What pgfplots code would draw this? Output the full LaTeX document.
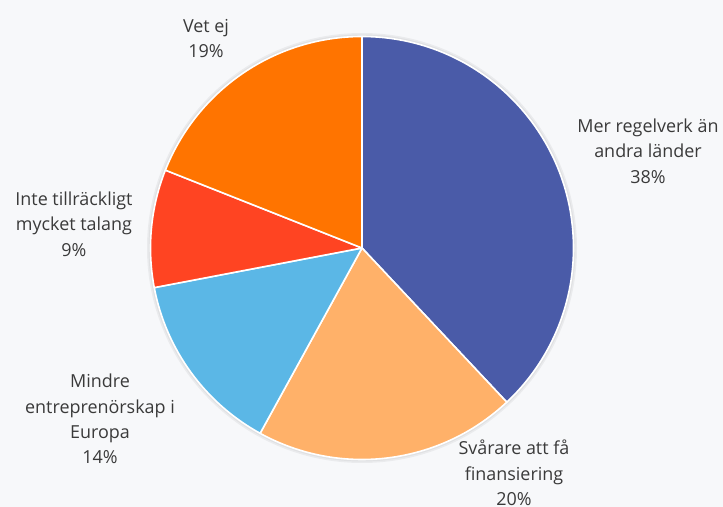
\documentclass[border=0pt]{standalone}
\usepackage{pgfplots}
\pgfplotsset{compat=1.18}
\usepackage{fontspec}
\setmainfont{Open Sans}
\definecolor{bg}{HTML}{F7F8FA}
\definecolor{cA}{HTML}{4A5BA8}
\definecolor{cB}{HTML}{FFB169}
\definecolor{cC}{HTML}{5BB7E6}
\definecolor{cD}{HTML}{FF4422}
\definecolor{cE}{HTML}{FF7400}
\definecolor{txt}{HTML}{3A3A3A}
% shares (percent), clockwise from 90 degrees
\def\cx{362}\def\cy{259}\def\R{211.5}
\pgfmathsetmacro\aA{90}
\pgfmathsetmacro\aB{\aA-38*3.6}
\pgfmathsetmacro\aC{\aB-20*3.6}
\pgfmathsetmacro\aD{\aC-14*3.6}
\pgfmathsetmacro\aE{\aD-9*3.6}
\pgfmathsetmacro\aF{\aE-19*3.6}
\newcommand\piewedge[3]{\filldraw[fill=#3,draw=white,line width=1.6bp,line join=round]
    (axis cs:\cx,\cy) -- ++(#1:\R bp) arc[start angle=#1,end angle=#2,radius=\R bp] -- cycle;}
\tikzset{lbl/.style={align=center,text=txt,inner sep=0pt,font=\fontsize{18}{25.5}\selectfont}}
\begin{document}
\begin{tikzpicture}
\fill[bg] (0,0) rectangle (723bp,507bp);
\begin{axis}[
  at={(0,0)}, anchor=origin,
  x=1bp, y=1bp,
  xmin=0, xmax=723, ymin=0, ymax=507,
  hide axis, clip=false, scale only axis,
]
\fill[black,opacity=0.05] (axis cs:\cx,\cy) circle[radius=215bp];
\fill[black,opacity=0.04] (axis cs:\cx,\cy) circle[radius=213.5bp];
\piewedge{\aA}{\aB}{cA}
\piewedge{\aB}{\aC}{cB}
\piewedge{\aC}{\aD}{cC}
\piewedge{\aD}{\aE}{cD}
\piewedge{\aE}{\aF}{cE}
\node[lbl] at (axis cs:648,356) {Mer regelverk än\\andra länder\\38\%};
\node[lbl] at (axis cs:514,34) {Svårare att få\\finansiering\\20\%};
\node[lbl] at (axis cs:100,88) {Mindre\\entreprenörskap i\\Europa\\14\%};
\node[lbl] at (axis cs:74,283) {Inte tillräckligt\\mycket talang\\9\%};
\node[lbl] at (axis cs:206,468.5) {Vet ej\\19\%};
\end{axis}
\end{tikzpicture}
\end{document}
